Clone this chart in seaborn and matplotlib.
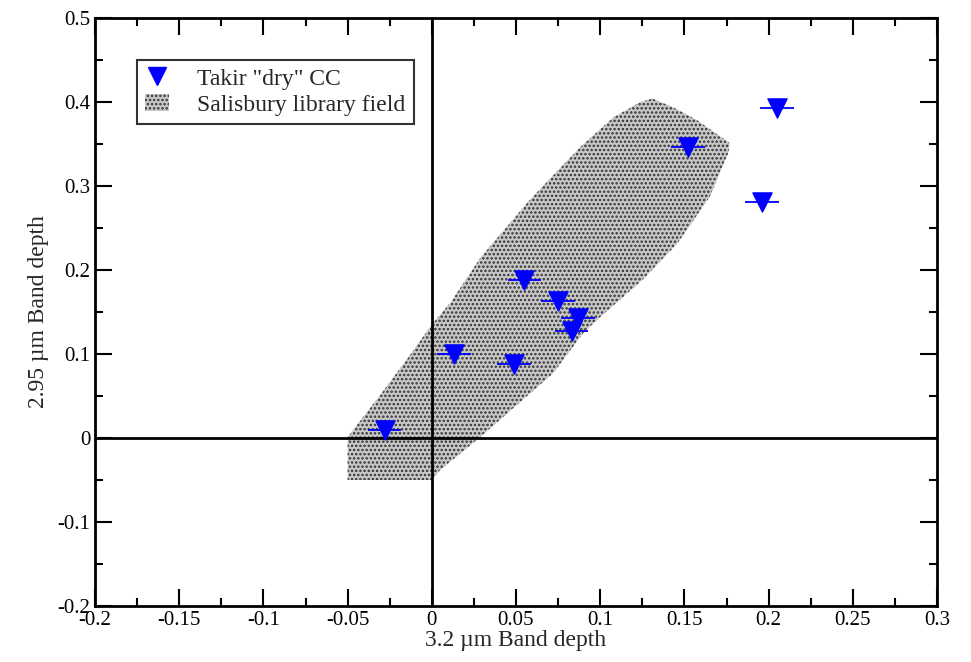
import numpy as np
import pandas as pd
import matplotlib
matplotlib.use("Agg")
import matplotlib.pyplot as plt
import seaborn as sns
from matplotlib.lines import Line2D
from matplotlib.patches import Patch

# Takir "dry" CC points (3.2 um vs 2.95 um band depth)
band_32 = [-0.028, 0.013, 0.049, 0.055, 0.075, 0.087, 0.083, 0.152, 0.196, 0.205]
band_295 = [0.010, 0.100, 0.088, 0.188, 0.163, 0.143, 0.127, 0.346, 0.281, 0.393]
err_32 = [0.010] * len(band_32)
err_295 = [0.009] * len(band_295)

# Salisbury library field outline
field_x = [-0.050, 0.000, 0.005, 0.027, 0.052, 0.072, 0.090, 0.100, 0.125, 0.146,
           0.165, 0.176, 0.177, 0.157, 0.143, 0.131, 0.124, 0.108, 0.088, 0.058,
           0.029, 0.011, 0.000, -0.015, -0.033, -0.050]
field_y = [-0.050, -0.050, -0.038, -0.002, 0.042, 0.077, 0.125, 0.144, 0.188, 0.232,
           0.287, 0.339, 0.351, 0.379, 0.394, 0.404, 0.400, 0.382, 0.346, 0.283,
           0.215, 0.161, 0.135, 0.093, 0.045, 0.001]

df = pd.DataFrame({"x": band_32, "y": band_295})

sns.set_style("ticks")
plt.rcParams["font.family"] = ["Liberation Serif", "DejaVu Serif"]
plt.rcParams["hatch.linewidth"] = 1.2

fig = plt.figure(figsize=(9.71, 6.62), dpi=100)
ax = fig.add_axes([95 / 971, 1 - 606 / 662, (937 - 95) / 971, (606 - 18) / 662])

# champ Salisbury (pointillé)
ax.fill(field_x, field_y, facecolor="#c8c8c8", edgecolor="#333333", hatch="....",
        linewidth=0, zorder=1)

ax.axhline(0, color="black", lw=2, zorder=2)
ax.axvline(0, color="black", lw=2, zorder=2)

ax.errorbar(df["x"], df["y"], xerr=err_32, yerr=err_295, fmt="none",
            ecolor="blue", elinewidth=1.3, capsize=0, zorder=3)
sns.scatterplot(data=df, x="x", y="y", marker="v", s=190, color="blue",
                edgecolor="blue", linewidth=1, ax=ax, zorder=4, legend=False)

ax.set_xlim(-0.2, 0.3)
ax.set_ylim(-0.2, 0.5)
ax.set_xticks(np.arange(-0.2, 0.31, 0.05))
ax.set_xticklabels(["-0.2", "-0.15", "-0.1", "-0.05", "0", "0.05", "0.1",
                    "0.15", "0.2", "0.25", "0.3"])
ax.set_yticks(np.arange(-0.2, 0.51, 0.1))
ax.set_yticklabels(["-0.2", "-0.1", "0", "0.1", "0.2", "0.3", "0.4", "0.5"])
ax.set_xticks(np.arange(-0.175, 0.3, 0.05), minor=True)
ax.set_yticks(np.arange(-0.15, 0.5, 0.1), minor=True)
ax.tick_params(which="both", direction="in", top=True, right=True, width=1.5,
               labelsize=15, colors="black")
ax.tick_params(which="major", length=12)
ax.tick_params(which="minor", length=6)
for sp in ax.spines.values():
    sp.set_linewidth(2)
    sp.set_color("black")

ax.set_xlabel("3.2 µm Band depth", fontsize=17, labelpad=0)
ax.set_ylabel("2.95 µm Band depth", fontsize=17, labelpad=6)

# légende
handles = [
    Line2D([], [], marker="v", linestyle="none", markersize=13, color="blue"),
    Patch(facecolor="#c8c8c8", edgecolor="#333333", hatch="....", linewidth=0),
]
leg = ax.legend(handles, ['Takir "dry" CC', "Salisbury library field"],
                loc="upper left", bbox_to_anchor=(0.05, 0.929), borderaxespad=0,
                fontsize=17, frameon=True, fancybox=False, edgecolor="black",
                handlelength=1.0, handletextpad=1.2, borderpad=0.35,
                labelspacing=0.2)
leg.get_frame().set_linewidth(1.5)

fig.savefig("out.png", dpi=100)
